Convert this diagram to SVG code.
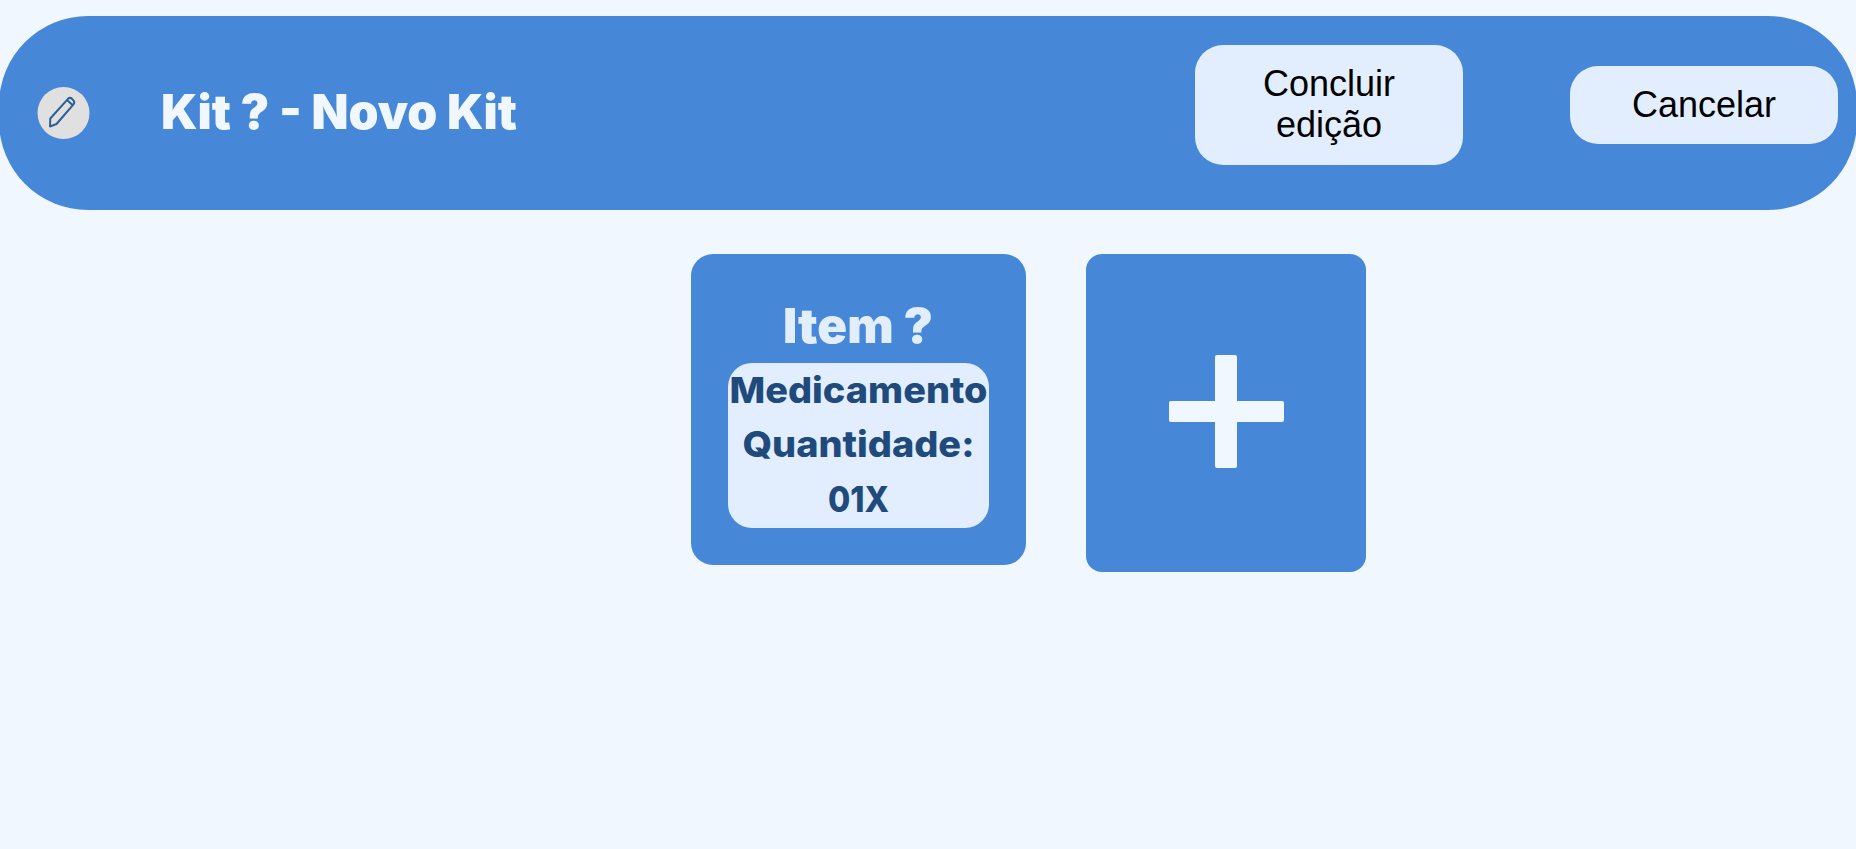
<svg xmlns="http://www.w3.org/2000/svg" width="1856" height="849" viewBox="0 0 1856 849">
<style>
.panel{fill:#4787d8}
.soft{fill:#e2eefd}
.btn{font-family:"Liberation Sans",Arial,sans-serif;font-size:36px;fill:#000;text-anchor:middle}
.head{font-family:Inter,"Noto Sans",sans-serif;font-weight:900;text-anchor:start}
.body{font-family:Inter,"Noto Sans",sans-serif;font-weight:800;text-anchor:middle;font-size:36px;fill:#214a7c}
</style>
<rect width="1856" height="849" fill="#f0f7ff"/>
<g id="header">
<rect class="panel" x="-1" y="16" width="1858" height="194" rx="89" ry="89"/>
<text class="head" x="161" y="129" font-size="48" fill="#f0f7ff" textLength="356" lengthAdjust="spacingAndGlyphs">Kit ? - Novo Kit</text>
</g>
<g id="edit-icon">
<circle cx="63.5" cy="113" r="26" fill="#e0e0e0"/>
<path d="M50 126.5 L50.3 118.5 L68 98.8 Q70 97 72 98.8 L73.6 100.6 Q75 102.5 73.5 104.3 L56.5 124 Z M67 100 L72.5 105" fill="none" stroke="#2b5f97" stroke-width="2" stroke-linejoin="round"/>
</g>
<g id="btn-concluir">
<rect class="soft" x="1195" y="45" width="268" height="120" rx="28"/>
<text class="btn" x="1329" y="96">Concluir</text>
<text class="btn" x="1329" y="137">edição</text>
</g>
<g id="btn-cancelar">
<rect class="soft" x="1570" y="66" width="268" height="78" rx="28"/>
<text class="btn" x="1704" y="117">Cancelar</text>
</g>
<g id="item-card">
<rect class="panel" x="691" y="254" width="335" height="311" rx="22"/>
<text x="858" y="343" font-family="Inter,'Noto Sans',sans-serif" font-weight="900" font-size="48" fill="#e2eefd" text-anchor="middle" textLength="150" lengthAdjust="spacingAndGlyphs">Item ?</text>
<rect class="soft" x="728" y="363" width="261" height="165" rx="24"/>
<text class="body" x="858.5" y="403" textLength="258" lengthAdjust="spacingAndGlyphs">Medicamento</text>
<text class="body" x="858.5" y="457" textLength="232" lengthAdjust="spacingAndGlyphs">Quantidade:</text>
<text class="body" x="858.5" y="512" textLength="61" lengthAdjust="spacingAndGlyphs">01X</text>
</g>
<g id="add-card">
<rect class="panel" x="1086" y="254" width="280" height="318" rx="16"/>
<rect x="1169" y="401" width="115" height="21" rx="2" fill="#f0f7ff"/>
<rect x="1215" y="355" width="22" height="113" rx="2" fill="#f0f7ff"/>
</g>
<g id="connectors"/>
</svg>
